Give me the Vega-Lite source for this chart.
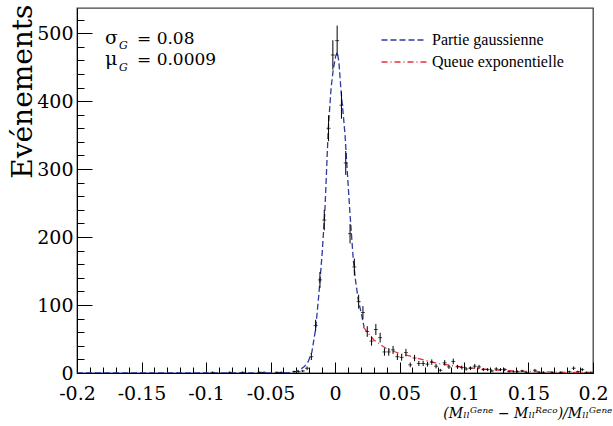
{
  "$schema": "https://vega.github.io/schema/vega-lite/v6.json",
  "width": 516,
  "height": 365,
  "autosize": {"type": "none"},
  "padding": {"left": 77, "top": 8, "right": 20, "bottom": 53},
  "background": "white",
  "config": {"view": {"stroke": "#444444", "strokeWidth": 1.3}},
  "datasets": {
    "hist": [
      {"x": -0.095, "n": 1, "err": 1},
      {"x": -0.081667, "n": 1, "err": 1},
      {"x": -0.071667, "n": 1, "err": 1},
      {"x": -0.058333, "n": 1, "err": 1},
      {"x": -0.055, "n": 1, "err": 1},
      {"x": -0.045, "n": 1, "err": 1},
      {"x": -0.041667, "n": 1, "err": 1},
      {"x": -0.031667, "n": 2, "err": 1.41},
      {"x": -0.028333, "n": 2, "err": 1.41},
      {"x": -0.025, "n": 3, "err": 1.73},
      {"x": -0.021667, "n": 7, "err": 2.65},
      {"x": -0.018333, "n": 24, "err": 4.9},
      {"x": -0.015, "n": 70, "err": 8.37},
      {"x": -0.011667, "n": 137, "err": 11.7},
      {"x": -0.008333, "n": 225, "err": 15},
      {"x": -0.005, "n": 360, "err": 18.97},
      {"x": -0.001667, "n": 468, "err": 21.63},
      {"x": 0.001667, "n": 489, "err": 22.11},
      {"x": 0.005, "n": 394, "err": 19.85},
      {"x": 0.008333, "n": 309, "err": 17.58},
      {"x": 0.011667, "n": 205, "err": 14.32},
      {"x": 0.015, "n": 156, "err": 12.49},
      {"x": 0.018333, "n": 105, "err": 10.25},
      {"x": 0.021667, "n": 89, "err": 9.43},
      {"x": 0.025, "n": 61, "err": 7.81},
      {"x": 0.028333, "n": 47, "err": 6.86},
      {"x": 0.031667, "n": 64, "err": 8},
      {"x": 0.035, "n": 52, "err": 7.21},
      {"x": 0.038333, "n": 31, "err": 5.57},
      {"x": 0.041667, "n": 31, "err": 5.57},
      {"x": 0.045, "n": 34, "err": 5.83},
      {"x": 0.048333, "n": 24, "err": 4.9},
      {"x": 0.051667, "n": 23, "err": 4.8},
      {"x": 0.055, "n": 30, "err": 5.48},
      {"x": 0.058333, "n": 12, "err": 3.46},
      {"x": 0.061667, "n": 22, "err": 4.69},
      {"x": 0.065, "n": 14, "err": 3.74},
      {"x": 0.068333, "n": 14, "err": 3.74},
      {"x": 0.071667, "n": 13, "err": 3.61},
      {"x": 0.075, "n": 16, "err": 4},
      {"x": 0.078333, "n": 10, "err": 3.16},
      {"x": 0.081667, "n": 4, "err": 2},
      {"x": 0.085, "n": 15, "err": 3.87},
      {"x": 0.088333, "n": 9, "err": 3},
      {"x": 0.091667, "n": 17, "err": 4.12},
      {"x": 0.095, "n": 9, "err": 3},
      {"x": 0.098333, "n": 8, "err": 2.83},
      {"x": 0.101667, "n": 6, "err": 2.45},
      {"x": 0.105, "n": 7, "err": 2.65},
      {"x": 0.108333, "n": 10, "err": 3.16},
      {"x": 0.111667, "n": 9, "err": 3},
      {"x": 0.115, "n": 5, "err": 2.24},
      {"x": 0.118333, "n": 5, "err": 2.24},
      {"x": 0.121667, "n": 3, "err": 1.73},
      {"x": 0.125, "n": 6, "err": 2.45},
      {"x": 0.128333, "n": 5, "err": 2.24},
      {"x": 0.131667, "n": 5, "err": 2.24},
      {"x": 0.135, "n": 2, "err": 1.41},
      {"x": 0.138333, "n": 2, "err": 1.41},
      {"x": 0.141667, "n": 2, "err": 1.41},
      {"x": 0.145, "n": 3, "err": 1.73},
      {"x": 0.148333, "n": 1, "err": 1},
      {"x": 0.155, "n": 4, "err": 2},
      {"x": 0.158333, "n": 1, "err": 1},
      {"x": 0.161667, "n": 1, "err": 1},
      {"x": 0.168333, "n": 1, "err": 1},
      {"x": 0.175, "n": 1, "err": 1},
      {"x": 0.181667, "n": 2, "err": 1.41},
      {"x": 0.185, "n": 7, "err": 2.65},
      {"x": 0.188333, "n": 2, "err": 1.41},
      {"x": 0.191667, "n": 5, "err": 2.24},
      {"x": 0.195, "n": 1, "err": 1},
      {"x": 0.198333, "n": 1, "err": 1}
    ],
    "curves": [
      {"s": "Partie gaussienne", "x": -0.2, "y": 0},
      {"s": "Partie gaussienne", "x": -0.06, "y": 0},
      {"s": "Partie gaussienne", "x": -0.045, "y": 0.2},
      {"s": "Partie gaussienne", "x": -0.04, "y": 0.5},
      {"s": "Partie gaussienne", "x": -0.035, "y": 1},
      {"s": "Partie gaussienne", "x": -0.03, "y": 2.5},
      {"s": "Partie gaussienne", "x": -0.027, "y": 5},
      {"s": "Partie gaussienne", "x": -0.024, "y": 9},
      {"s": "Partie gaussienne", "x": -0.021, "y": 16},
      {"s": "Partie gaussienne", "x": -0.018, "y": 30},
      {"s": "Partie gaussienne", "x": -0.015, "y": 65},
      {"s": "Partie gaussienne", "x": -0.0125, "y": 116},
      {"s": "Partie gaussienne", "x": -0.01, "y": 175},
      {"s": "Partie gaussienne", "x": -0.0078, "y": 240},
      {"s": "Partie gaussienne", "x": -0.0052, "y": 360},
      {"s": "Partie gaussienne", "x": -0.003, "y": 420},
      {"s": "Partie gaussienne", "x": -0.0013, "y": 447},
      {"s": "Partie gaussienne", "x": 0.0005, "y": 466},
      {"s": "Partie gaussienne", "x": 0.0018, "y": 472},
      {"s": "Partie gaussienne", "x": 0.003, "y": 458},
      {"s": "Partie gaussienne", "x": 0.0047, "y": 415},
      {"s": "Partie gaussienne", "x": 0.0065, "y": 378},
      {"s": "Partie gaussienne", "x": 0.0078, "y": 350},
      {"s": "Partie gaussienne", "x": 0.0091, "y": 309},
      {"s": "Partie gaussienne", "x": 0.0116, "y": 235},
      {"s": "Partie gaussienne", "x": 0.0142, "y": 166},
      {"s": "Partie gaussienne", "x": 0.016, "y": 135},
      {"s": "Partie gaussienne", "x": 0.0181, "y": 107},
      {"s": "Partie gaussienne", "x": 0.0207, "y": 85},
      {"s": "Partie gaussienne", "x": 0.0225, "y": 68},
      {"s": "Queue exponentielle", "x": 0.022, "y": 68},
      {"s": "Queue exponentielle", "x": 0.025, "y": 60},
      {"s": "Queue exponentielle", "x": 0.03, "y": 49},
      {"s": "Queue exponentielle", "x": 0.035, "y": 42},
      {"s": "Queue exponentielle", "x": 0.04, "y": 36},
      {"s": "Queue exponentielle", "x": 0.045, "y": 32},
      {"s": "Queue exponentielle", "x": 0.05, "y": 29},
      {"s": "Queue exponentielle", "x": 0.06, "y": 24},
      {"s": "Queue exponentielle", "x": 0.07, "y": 18.5},
      {"s": "Queue exponentielle", "x": 0.08, "y": 14},
      {"s": "Queue exponentielle", "x": 0.09, "y": 11},
      {"s": "Queue exponentielle", "x": 0.1, "y": 8.5},
      {"s": "Queue exponentielle", "x": 0.11, "y": 6.5},
      {"s": "Queue exponentielle", "x": 0.12, "y": 5},
      {"s": "Queue exponentielle", "x": 0.13, "y": 3.8},
      {"s": "Queue exponentielle", "x": 0.14, "y": 3},
      {"s": "Queue exponentielle", "x": 0.15, "y": 2.3},
      {"s": "Queue exponentielle", "x": 0.16, "y": 1.7},
      {"s": "Queue exponentielle", "x": 0.17, "y": 1.3},
      {"s": "Queue exponentielle", "x": 0.18, "y": 1},
      {"s": "Queue exponentielle", "x": 0.19, "y": 0.8},
      {"s": "Queue exponentielle", "x": 0.197, "y": 0.65}
    ]
  },
  "resolve": {"axis": {"x": "independent", "y": "independent"}},
  "layer": [
    {
      "data": {"name": "curves"},
      "mark": {"type": "line", "clip": true, "strokeWidth": 1.3},
      "encoding": {
        "x": {"field": "x", "type": "quantitative",
          "scale": {"domain": [-0.2, 0.2], "nice": false, "zero": false},
          "axis": {"orient": "bottom", "values": [-0.2, -0.15, -0.1, -0.05, 0, 0.05, 0.1, 0.15, 0.2],
            "labelExpr": "'' + datum.value", "tickSize": -11, "tickColor": "black", "domainColor": "black",
            "labelFont": "DejaVu Serif", "labelFontSize": 19, "labelColor": "black", "labelPadding": 22,
            "labelFlush": false, "labelOverlap": false, "labelBound": false, "grid": false,
            "title": "(Mₗₗᴳᵉⁿᵉ − Mₗₗᴿᵉᶜᵒ)/Mₗₗᴳᵉⁿᵉ", "titleFont": "DejaVu Serif", "titleFontStyle": "italic",
            "titleFontWeight": "normal", "titleFontSize": 14, "titleColor": "black",
            "titleAnchor": "end", "titleAlign": "right", "titleBaseline": "alphabetic", "titleX": 535, "titleY": 44}},
        "y": {"field": "y", "type": "quantitative",
          "scale": {"domain": [0, 537], "nice": false, "zero": true},
          "axis": {"orient": "left", "values": [0, 100, 200, 300, 400, 500], "tickSize": -15,
            "tickColor": "black", "domainColor": "black", "labelFont": "DejaVu Serif", "labelFontSize": 19,
            "labelColor": "black", "labelPadding": 19, "labelFlush": false, "labelOverlap": false, "grid": false,
            "title": "Evénements", "titleFont": "DejaVu Serif", "titleFontSize": 28, "titleFontWeight": "normal",
            "titleColor": "black", "titleAngle": -90, "titleAlign": "right", "titleBaseline": "alphabetic",
            "titleX": -46, "titleY": -4}},
        "color": {"field": "s", "type": "nominal",
          "scale": {"domain": ["Partie gaussienne", "Queue exponentielle"], "range": ["#2b3aa0", "#e8303a"]},
          "legend": {"orient": "none", "legendX": 319, "legendY": 24, "title": null,
            "symbolType": "M-5,0H5", "symbolSize": 81, "symbolStrokeWidth": 1.3, "labelOffset": 20,
            "labelFont": "Liberation Serif", "labelFontSize": 16, "labelColor": "black", "rowPadding": 6}},
        "strokeDash": {"field": "s", "type": "nominal",
          "scale": {"domain": ["Partie gaussienne", "Queue exponentielle"], "range": [[6, 3], [6, 3, 1, 3]]},
          "legend": {"orient": "none", "legendX": 319, "legendY": 24, "title": null,
            "symbolType": "M-5,0H5", "symbolSize": 81, "symbolStrokeWidth": 1.3, "labelOffset": 20,
            "labelFont": "Liberation Serif", "labelFontSize": 16, "labelColor": "black", "rowPadding": 6}}
      }
    },
    {
      "data": {"name": "hist"},
      "mark": {"type": "errorbar", "color": "black", "thickness": 1},
      "encoding": {
        "x": {"field": "x", "type": "quantitative",
          "axis": {"orient": "bottom", "values": [-0.2, -0.19, -0.18, -0.17, -0.16, -0.15, -0.14, -0.13, -0.12, -0.11, -0.1, -0.09, -0.08, -0.07, -0.06, -0.05, -0.04, -0.03, -0.02, -0.01, 0, 0.01, 0.02, 0.03, 0.04, 0.05, 0.06, 0.07, 0.08, 0.09, 0.1, 0.11, 0.12, 0.13, 0.14, 0.15, 0.16, 0.17, 0.18, 0.19, 0.2],
            "tickSize": -6, "tickColor": "black", "labels": false, "domain": false, "grid": false, "title": null}},
        "y": {"field": "n", "type": "quantitative",
          "axis": {"orient": "left", "values": [0, 20, 40, 60, 80, 100, 120, 140, 160, 180, 200, 220, 240, 260, 280, 300, 320, 340, 360, 380, 400, 420, 440, 460, 480, 500, 520],
            "tickSize": -7, "tickColor": "black", "labels": false, "domain": false, "grid": false, "title": null}},
        "yError": {"field": "err"}
      }
    },
    {
      "data": {"name": "hist"},
      "mark": {"type": "tick", "orient": "horizontal", "size": 4, "thickness": 1, "color": "black"},
      "encoding": {
        "x": {"field": "x", "type": "quantitative", "axis": null},
        "y": {"field": "n", "type": "quantitative", "axis": null}
      }
    },
    {
      "data": {"values": [{"t": "σ"}]},
      "mark": {"type": "text", "font": "DejaVu Serif", "fontSize": 19, "align": "left", "baseline": "alphabetic", "color": "black"},
      "encoding": {
        "text": {"field": "t"},
        "x": {"datum": -0.1783, "type": "quantitative", "axis": null},
        "y": {"datum": 484, "type": "quantitative", "axis": null}
      }
    },
    {
      "data": {"values": [{"t": "G"}]},
      "mark": {"type": "text", "font": "DejaVu Serif", "fontSize": 11, "fontStyle": "italic", "align": "left", "baseline": "alphabetic", "color": "black"},
      "encoding": {
        "text": {"field": "t"},
        "x": {"datum": -0.1675, "type": "quantitative", "axis": null},
        "y": {"datum": 476, "type": "quantitative", "axis": null}
      }
    },
    {
      "data": {"values": [{"t": "= 0.08"}]},
      "mark": {"type": "text", "font": "DejaVu Serif", "fontSize": 17, "align": "left", "baseline": "alphabetic", "color": "black"},
      "encoding": {
        "text": {"field": "t"},
        "x": {"datum": -0.1535, "type": "quantitative", "axis": null},
        "y": {"datum": 484, "type": "quantitative", "axis": null}
      }
    },
    {
      "data": {"values": [{"t": "μ"}]},
      "mark": {"type": "text", "font": "DejaVu Serif", "fontSize": 19, "align": "left", "baseline": "alphabetic", "color": "black"},
      "encoding": {
        "text": {"field": "t"},
        "x": {"datum": -0.1783, "type": "quantitative", "axis": null},
        "y": {"datum": 453, "type": "quantitative", "axis": null}
      }
    },
    {
      "data": {"values": [{"t": "G"}]},
      "mark": {"type": "text", "font": "DejaVu Serif", "fontSize": 11, "fontStyle": "italic", "align": "left", "baseline": "alphabetic", "color": "black"},
      "encoding": {
        "text": {"field": "t"},
        "x": {"datum": -0.1675, "type": "quantitative", "axis": null},
        "y": {"datum": 444, "type": "quantitative", "axis": null}
      }
    },
    {
      "data": {"values": [{"t": "= 0.0009"}]},
      "mark": {"type": "text", "font": "DejaVu Serif", "fontSize": 17, "align": "left", "baseline": "alphabetic", "color": "black"},
      "encoding": {
        "text": {"field": "t"},
        "x": {"datum": -0.1535, "type": "quantitative", "axis": null},
        "y": {"datum": 453, "type": "quantitative", "axis": null}
      }
    }
  ]
}
